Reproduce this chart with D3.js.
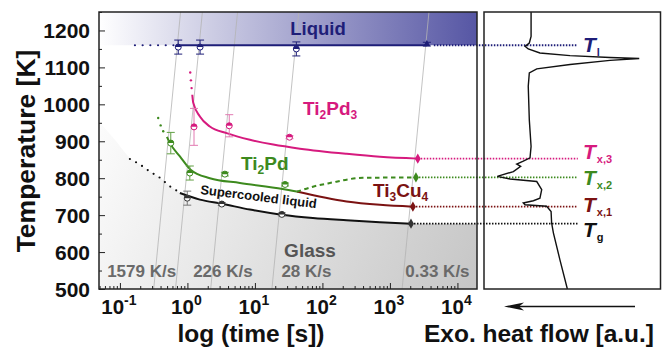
<!DOCTYPE html>
<html>
<head>
<meta charset="utf-8">
<script src="https://cdn.jsdelivr.net/npm/d3@7"></script>
<style>
body { margin: 0; background: #fff; }
svg text { font-family: "Liberation Sans", Arial, sans-serif; font-weight: bold; }
</style>
</head>
<body>
<script>
// iso-rate lines (heating rate, K/s)
var rates = [1579, 750, 226, 28, 0.33];
var rateLabels = ["1579 K/s", "226 K/s", "28 K/s", "0.33 K/s"];
var rateLabelTimes = [0.21, 3.36, 58, 5060];

// liquidus (rate, T, error)
var liqLevel = 1160;
var liqRate = [1579, 750, 28, 0.33];
var liqT = [1155, 1155, 1150, 1163];
var liqErr = [19, 19, 19, 5];

// Ti2Pd3 onset
var pd3Rate = [750, 226, 28];
var pd3T = [939, 942, 911];
var pd3Err = [50, 30, 4];
var pd3End = [2585, 853];
var pd3Time = [1.18, 1.22, 1.53, 2.15, 3.81, 8.43, 18.7, 46.4, 228, 711, 2585];
var pd3K = [1026, 1004, 967, 940, 922, 904, 891, 880, 866, 858, 853];
var pd3DotTime = [1.10, 1.127, 1.154];
var pd3DotK = [1086, 1065, 1044];

// Ti2Pd onset
var pdRate = [1579, 750, 226, 28];
var pdT = [895, 814, 811, 783];
var pdErr = [29, 19, 5, 4];
var pdEnd = [2430, 802];
var pdTime = [0.497, 0.551, 0.774, 1.115, 2.15, 6.0, 25.8, 41.5];
var pdK = [912, 895, 859, 823, 800, 787, 771, 764];
var pdDashTime = [41.5, 72.3, 129, 398, 2430];
var pdDashK = [763, 777, 787, 801, 802];
var pdDotTime = [0.369, 0.401, 0.438];
var pdDotK = [963, 943, 927];

// Ti3Cu4 onset
var cuEnd = [2190, 723];
var cuTime = [41.5, 228, 711, 2190];
var cuK = [764, 737, 728, 723];

// glass transition / supercooled liquid
var gRate = [750, 226, 28];
var gT = [746, 730, 702];
var gErr = [19, 4, 4];
var gEnd = [2052, 677];
var gTime = [0.774, 1.53, 3.21, 8.43, 24.9, 72.3, 228, 711, 2052];
var gK = [760, 742, 731, 715, 701, 692, 686, 681, 677];
var gDotTime = [0.1406, 0.198, 0.278, 0.392, 0.551, 0.731];
var gDotK = [852, 837, 818, 801, 778, 764];
var glassTime = [0.049, 0.0844, 0.1406, 0.198, 0.278, 0.392, 0.551, 0.774, 1.53, 3.21, 8.43, 24.9, 72.3, 228, 711, 2052, 19500];
var glassK = [953, 904, 855, 837, 818, 801, 778, 760, 742, 731, 715, 701, 692, 686, 681, 677, 677];

// DSC trace (right panel)
var dscK = [1250, 1184, 1166, 1157, 1150, 1139, 1132, 1127, 1124, 1119, 1108, 1096, 1085, 1049, 958, 886, 855, 846, 838, 832, 818, 805, 798, 791, 769, 746, 739, 733, 728, 724, 710, 679, 652, 579, 500];
var dscFlow = [26.6, 26.6, 25.6, 23.2, 25.0, 31.6, 48.6, 71.2, 87.7, 71.2, 48.6, 29.8, 25.6, 25.0, 25.6, 26.6, 26.0, 22.2, 18.5, 20.7, 16.6, 7.5, 14.7, 29.8, 32.6, 31.6, 27.9, 22.2, 23.2, 35.4, 37.9, 38.2, 39.2, 42.9, 47.1];

var yTicks = [500, 600, 700, 800, 900, 1000, 1100, 1200];
var xTickExp = [-1, 0, 1, 2, 3, 4];

var navy = "#1e1e78", magenta = "#d61a7e", green = "#3d8a1e", dred = "#7b1212", blk = "#111";

var svg = d3.select("body").append("svg").attr("width", 662).attr("height", 348);

var x = d3.scaleLog().domain([0.049, 19500]).range([99, 477]);
var y = d3.scaleLinear().domain([500, 1250]).range([289, 12]);
var xr = d3.scaleLinear().domain([0, 100]).range([484, 661]);

var defs = svg.append("defs");
var lg = defs.append("linearGradient").attr("id", "liq").attr("x1", 0).attr("x2", 1).attr("y1", 0).attr("y2", 0);
lg.append("stop").attr("offset", 0).attr("stop-color", "#ffffff");
lg.append("stop").attr("offset", 1).attr("stop-color", "#5656a4");
var gg = defs.append("linearGradient").attr("id", "gls").attr("gradientUnits", "userSpaceOnUse")
    .attr("x1", 99).attr("y1", 120).attr("x2", 477).attr("y2", 289);
gg.append("stop").attr("offset", 0).attr("stop-color", "#fcfcfc");
gg.append("stop").attr("offset", 1).attr("stop-color", "#c6c6c6");
defs.append("clipPath").attr("id", "clip").append("rect")
    .attr("x", 99).attr("y", 12).attr("width", 378).attr("height", 277);

var plot = svg.append("g").attr("clip-path", "url(#clip)");

// glass region
var glass = glassTime.map(function(t, i) { return [t, glassK[i]]; });
plot.append("path").datum(glass)
    .attr("fill", "url(#gls)")
    .attr("d", d3.area().x(function(d) { return x(d[0]); }).y0(y(500)).y1(function(d) { return y(d[1]); }).curve(d3.curveMonotoneX));

// liquid band
plot.append("rect").attr("x", 99).attr("width", 378)
    .attr("y", y(1250)).attr("height", y(liqLevel) - y(1250))
    .attr("fill", "url(#liq)");

// iso-rate lines, t = T / rate
rates.forEach(function(r) {
    plot.append("line")
        .attr("x1", x(500 / r)).attr("y1", y(500))
        .attr("x2", x(1250 / r)).attr("y2", y(1250))
        .attr("stroke", "#b4b4b4").attr("stroke-width", 0.8);
});

var line = d3.line().x(function(d) { return x(d[0]); }).y(function(d) { return y(d[1]); }).curve(d3.curveMonotoneX);
function pairs(a, b) { return a.map(function(v, i) { return [v, b[i]]; }); }

// liquidus line
var liqStart = liqT[0] / liqRate[0];
plot.append("line").attr("x1", x(liqStart)).attr("x2", x(pd3End[0] * 1.37))
    .attr("y1", y(liqLevel)).attr("y2", y(liqLevel))
    .attr("stroke", navy).attr("stroke-width", 2);
plot.append("line").attr("x1", x(0.167)).attr("x2", x(liqStart))
    .attr("y1", y(liqLevel)).attr("y2", y(liqLevel))
    .attr("stroke", navy).attr("stroke-width", 2.2)
    .attr("stroke-dasharray", "0,7.7").attr("stroke-linecap", "round");

// curves
plot.append("path").datum(pairs(gTime, gK)).attr("d", line)
    .attr("fill", "none").attr("stroke", blk).attr("stroke-width", 2);
plot.append("path").datum(pairs(gDotTime, gDotK)).attr("d", line)
    .attr("fill", "none").attr("stroke", blk).attr("stroke-width", 2.2)
    .attr("stroke-dasharray", "0,7").attr("stroke-linecap", "round");
plot.append("path").datum(pairs(cuTime, cuK)).attr("d", line)
    .attr("fill", "none").attr("stroke", dred).attr("stroke-width", 2);
plot.append("path").datum(pairs(pdTime, pdK)).attr("d", line)
    .attr("fill", "none").attr("stroke", green).attr("stroke-width", 2);
plot.append("path").datum(pairs(pdDashTime, pdDashK)).attr("d", line)
    .attr("fill", "none").attr("stroke", green).attr("stroke-width", 2)
    .attr("stroke-dasharray", "4.5,3.5");
plot.append("path").datum(pairs(pd3Time, pd3K)).attr("d", line)
    .attr("fill", "none").attr("stroke", magenta).attr("stroke-width", 2);

function dots(ts, ks, col) {
    plot.selectAll(null).data(pairs(ts, ks)).enter().append("circle")
        .attr("cx", function(d) { return x(d[0]); }).attr("cy", function(d) { return y(d[1]); })
        .attr("r", 1.2).attr("fill", col);
}
dots(pd3DotTime, pd3DotK, magenta);
dots(pdDotTime, pdDotK, green);

// error bars + half-filled markers
function errPoints(rs, ts, es, col, ecol) {
    rs.forEach(function(r, i) {
        var cx = x(ts[i] / r), cy = y(ts[i]);
        var g = plot.append("g");
        g.append("line").attr("x1", cx).attr("x2", cx).attr("y1", y(ts[i] + es[i])).attr("y2", y(ts[i] - es[i]))
            .attr("stroke", ecol).attr("stroke-width", 1);
        [ts[i] + es[i], ts[i] - es[i]].forEach(function(v) {
            g.append("line").attr("x1", cx - 4).attr("x2", cx + 4).attr("y1", y(v)).attr("y2", y(v))
                .attr("stroke", ecol).attr("stroke-width", 1);
        });
        g.append("circle").attr("cx", cx).attr("cy", cy).attr("r", 3)
            .attr("fill", "#fff").attr("stroke", col).attr("stroke-width", 1);
        g.append("path").attr("transform", "translate(" + cx + "," + cy + ")")
            .attr("d", "M-3,0A3,3 0 0 1 3,0Z").attr("fill", col);
    });
}
errPoints(liqRate.slice(0, 3), liqT.slice(0, 3), liqErr.slice(0, 3), navy, navy);
errPoints(pd3Rate, pd3T, pd3Err, magenta, "#e27bb2");
errPoints(pdRate, pdT, pdErr, green, "#62a045");
errPoints(gRate, gT, gErr, "#333", "#777");

// liquid point at 0.33 K/s
var lq = liqT[3] / liqRate[3];
plot.append("line").attr("x1", x(lq)).attr("x2", x(lq)).attr("y1", y(liqT[3] + liqErr[3])).attr("y2", y(liqT[3] - liqErr[3]))
    .attr("stroke", navy);
[liqT[3] + liqErr[3], liqT[3] - liqErr[3]].forEach(function(v) {
    plot.append("line").attr("x1", x(lq) - 4).attr("x2", x(lq) + 4).attr("y1", y(v)).attr("y2", y(v)).attr("stroke", navy);
});
plot.append("path").attr("transform", "translate(" + x(lq) + "," + y(liqT[3]) + ")")
    .attr("d", d3.symbol(d3.symbolTriangle, 22)).attr("fill", navy);

// end points at 0.33 K/s
[[pd3End, magenta], [pdEnd, green], [cuEnd, dred], [gEnd, "#333"]].forEach(function(e) {
    plot.append("path").attr("transform", "translate(" + x(e[0][0]) + "," + y(e[0][1]) + ")")
        .attr("d", d3.symbol(d3.symbolDiamond, 30)).attr("fill", e[1]);
});

// labels inside the plot
function chem(xp, yp, parts, col) {
    var t = svg.append("text").attr("x", xp).attr("y", yp).attr("fill", col).attr("font-size", 19);
    parts.forEach(function(p, i) {
        var sub = i % 2 === 1;
        t.append("tspan").text(p).attr("font-size", sub ? 12 : 19).attr("dy", sub ? 4 : (i === 0 ? 0 : -4));
    });
}
svg.append("text").attr("x", 318).attr("y", 35).attr("text-anchor", "middle")
    .attr("font-size", 18.5).attr("fill", navy).text("Liquid");
chem(303, 115, ["Ti", "2", "Pd", "3"], magenta);
chem(241, 170, ["Ti", "2", "Pd"], green);
chem(373, 197, ["Ti", "3", "Cu", "4"], dred);
svg.append("text").attr("transform", "translate(200,194) rotate(7)")
    .attr("font-size", 13).attr("fill", blk).text("Supercooled liquid");
svg.append("text").attr("x", 310).attr("y", 257).attr("text-anchor", "middle")
    .attr("font-size", 19).attr("fill", "#555").text("Glass");
rateLabels.forEach(function(s, i) {
    svg.append("text").attr("x", x(rateLabelTimes[i])).attr("y", 277).attr("text-anchor", "middle")
        .attr("font-size", 17).attr("fill", "#6a6a6a").text(s);
});

// dotted reference lines to the DSC panel
var refs = [[x(lq) + 4, liqLevel, navy], [x(pd3End[0]), pd3End[1], magenta], [x(pdEnd[0]), pdEnd[1], green],
            [x(cuEnd[0]), cuEnd[1], dred], [x(gEnd[0]), gEnd[1], blk]];
refs.forEach(function(r) {
    svg.append("line").attr("x1", r[0] + 3).attr("x2", xr(53)).attr("y1", y(r[1])).attr("y2", y(r[1]))
        .attr("stroke", r[2]).attr("stroke-width", 1.8).attr("stroke-dasharray", "1.5,1.5");
});

// axes
var xMinor = [];
for (var e = -2; e <= 4; e++) for (var m = 2; m <= 9; m++) {
    var v = m * Math.pow(10, e);
    if (v > 0.049 && v < 19500) xMinor.push(v);
}
var xMajor = xTickExp.map(function(p) { return Math.pow(10, p); });
svg.append("g").attr("transform", "translate(0,289)")
    .call(d3.axisTop(x).tickValues(xMajor).tickSize(6).tickFormat(""))
    .call(function(g) { g.select(".domain").remove(); });
svg.append("g").attr("transform", "translate(0,289)")
    .call(d3.axisTop(x).tickValues(xMinor).tickSize(3).tickFormat(""))
    .call(function(g) { g.select(".domain").remove(); });
svg.append("g").attr("transform", "translate(99,0)")
    .call(d3.axisRight(y).tickValues(yTicks).tickSize(6).tickFormat(""))
    .call(function(g) { g.select(".domain").remove(); });
svg.append("g").attr("transform", "translate(99,0)")
    .call(d3.axisRight(y).tickValues(yTicks.map(function(v) { return v + 50; })).tickSize(3).tickFormat(""))
    .call(function(g) { g.select(".domain").remove(); });
svg.selectAll(".tick line").attr("stroke", "#222");

svg.selectAll(null).data(yTicks).enter().append("text")
    .attr("x", 90).attr("y", function(d) { return y(d) + 7.5; })
    .attr("text-anchor", "end").attr("font-size", 21).attr("fill", "#111").text(function(d) { return d; });

xTickExp.forEach(function(p) {
    var t = svg.append("text").attr("x", x(Math.pow(10, p)) - 1).attr("y", 313.5)
        .attr("text-anchor", "middle").attr("font-size", 20.5).attr("fill", "#111");
    t.append("tspan").text("10");
    t.append("tspan").text(p === -1 ? "-1" : String(p)).attr("font-size", 14).attr("dy", -9);
});

svg.append("rect").attr("x", 99).attr("y", 12).attr("width", 378).attr("height", 277)
    .attr("fill", "none").attr("stroke", "#222").attr("stroke-width", 1.5);

svg.append("text").attr("transform", "translate(35,151) rotate(-90)").attr("text-anchor", "middle")
    .attr("font-size", 26.5).attr("fill", "#111").text("Temperature [K]");
svg.append("text").attr("x", 251).attr("y", 342).attr("text-anchor", "middle")
    .attr("font-size", 24.5).attr("fill", "#111").text("log (time [s])");
svg.append("text").attr("x", 539).attr("y", 342).attr("text-anchor", "middle")
    .attr("font-size", 24.5).attr("fill", "#111").text("Exo. heat flow [a.u.]");

// DSC panel
svg.append("path").datum(pairs(dscFlow, dscK))
    .attr("d", d3.line().x(function(d) { return xr(d[0]); }).y(function(d) { return y(d[1]); }))
    .attr("fill", "none").attr("stroke", blk).attr("stroke-width", 1.4);
svg.append("rect").attr("x", 484).attr("y", 12).attr("width", 176.5).attr("height", 277)
    .attr("fill", "none").attr("stroke", "#222").attr("stroke-width", 1.5);

var tLabels = [["l", 51.5, navy], ["x,3", 159, magenta], ["x,2", 185, green], ["x,1", 211.5, dred], ["g", 236.5, blk]];
tLabels.forEach(function(l) {
    var t = svg.append("text").attr("x", 583).attr("y", l[1]).attr("fill", l[2]).attr("font-size", 21);
    t.append("tspan").text("T").attr("font-style", "italic");
    t.append("tspan").text(l[0]).attr("font-size", 11).attr("dy", 4).attr("dx", 1);
});

// arrow
svg.append("line").attr("x1", 635).attr("x2", 512).attr("y1", 306.5).attr("y2", 306.5)
    .attr("stroke", blk).attr("stroke-width", 1.5);
svg.append("path").attr("d", "M504,306.5L524,302.5L519,306.5L524,310.5Z").attr("fill", blk);
</script>
</body>
</html>
